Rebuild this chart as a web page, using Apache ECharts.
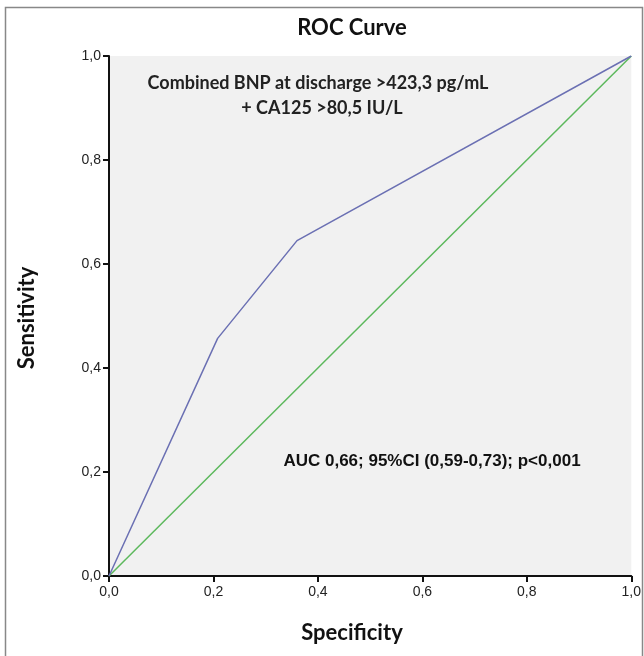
<!DOCTYPE html>
<html>
<head>
<meta charset="utf-8">
<script src="https://cdn.jsdelivr.net/npm/echarts@6/dist/echarts.min.js"></script>
<style>
html,body{margin:0;padding:0;background:#fff}
#chart{width:644px;height:656px}
</style>
</head>
<body>
<div id="chart"></div>
<script>
// ROC 曲线
var rocX = [0, 0.208, 0.36, 1];
var rocY = [0, 0.457, 0.645, 1];
var refX = [0, 1];
var refY = [0, 1];
var tickLabels = ['0,0', '0,2', '0,4', '0,6', '0,8', '1,0'];

function pairs(xs, ys) {
	var out = [];
	for(var i = 0; i < xs.length; i++) {
		out.push([xs[i], ys[i]]);
	}
	return out
}
function fmt(v) {
	return tickLabels[Math.round(v * 5)]
}

var myChart = echarts.init(document.getElementById('chart'));
var axisCommon = {
	type: 'value',
	min: 0,
	max: 1,
	interval: 0.2,
	axisLine: { show: true, lineStyle: { color: '#111', width: 2 } },
	axisTick: { show: true, length: 6, lineStyle: { color: '#111', width: 2 } },
	splitLine: { show: false },
	axisLabel: {
		formatter: fmt,
		color: '#222',
		fontFamily: 'Liberation Sans',
		fontSize: 14
	}
};
var option = {
	animation: false,
	backgroundColor: '#fff',
	grid: {
		left: 109,
		top: 56,
		width: 523,
		height: 520,
		show: true,
		backgroundColor: '#f1f1f1',
		borderWidth: 0
	},
	xAxis: echarts.util.merge({
		axisLabel: { margin: 9 }
	}, axisCommon, true),
	yAxis: echarts.util.merge({
		axisLabel: { margin: 8 }
	}, axisCommon, true),
	series: [{
			type: 'line',
			data: pairs(refX, refY),
			symbol: 'none',
			lineStyle: { color: '#5cb85c', width: 1.5 }
		},
		{
			type: 'line',
			data: pairs(rocX, rocY),
			symbol: 'none',
			lineStyle: { color: '#6b70b3', width: 1.5 }
		}
	],
	graphic: [{
			type: 'rect',
			shape: { x: 5.5, y: 7.5, width: 637, height: 660 },
			style: { fill: 'none', stroke: '#888', lineWidth: 1.5 },
			silent: true
		},
		{
			type: 'text',
			x: 352,
			y: 28,
			style: { text: 'ROC Curve', font: 'bold 22px Lato', fill: '#111', align: 'center', verticalAlign: 'middle' }
		},
		{
			type: 'text',
			x: 318,
			y: 83,
			style: { text: 'Combined BNP at discharge >423,3 pg/mL', font: 'bold 18px Lato', fill: '#222', align: 'center', verticalAlign: 'middle' }
		},
		{
			type: 'text',
			x: 322,
			y: 108,
			style: { text: '+ CA125 >80,5 IU/L', font: 'bold 18px Lato', fill: '#222', align: 'center', verticalAlign: 'middle' }
		},
		{
			type: 'text',
			x: 432,
			y: 461,
			style: { text: 'AUC 0,66; 95%CI (0,59-0,73); p<0,001', font: 'bold 17px "Liberation Sans"', fill: '#111', align: 'center', verticalAlign: 'middle' }
		},
		{
			type: 'text',
			x: 352,
			y: 633,
			style: { text: 'Specificity', font: 'bold 22px Lato', fill: '#111', align: 'center', verticalAlign: 'middle' }
		},
		{
			type: 'text',
			x: 27,
			y: 318,
			rotation: Math.PI / 2,
			style: { text: 'Sensitivity', font: 'bold 22px Lato', fill: '#111', align: 'center', verticalAlign: 'middle' }
		}
	]
};
myChart.setOption(option);
</script>
</body>
</html>
